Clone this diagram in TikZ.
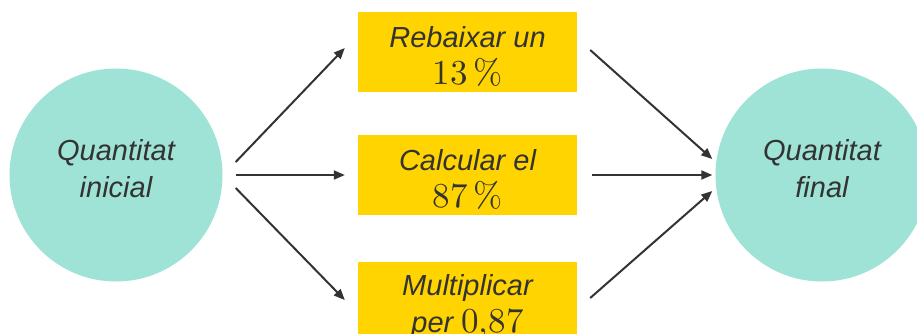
\documentclass[tikz,border=0pt]{standalone}
\usepackage{fontspec}
\newfontfamily\labelfont{Liberation Sans}
\newfontfamily\numfont{lmroman10-regular.otf}
\usepackage{tikz}
\usetikzlibrary{arrows.meta,positioning,calc}

\definecolor{circlefill}{HTML}{9EE3D6}
\definecolor{boxfill}{HTML}{FFD400}
\definecolor{inkgray}{HTML}{333333}
\newcommand\numsz{\fontsize{35}{38}\selectfont\numfont}
\newcommand\topstrut{\rule{0pt}{30pt}}

\begin{document}
\begin{tikzpicture}[
    %–––– GLOBAL STYLE TWEAKS ––––
    x=1pt, y=-1pt,                                   % pixel-like grid
    font=\labelfont\itshape\fontsize{29}{37}\selectfont,
    >={Triangle[length=11pt,width=9pt]},
    quantity/.style = {circle, fill=circlefill, minimum size=213pt,
                       inner sep=0pt, align=center, text=inkgray},
    stepbox/.style  = {rectangle, fill=boxfill, minimum width=219pt,
                       minimum height=80pt, inner sep=0pt,
                       align=center, text=inkgray},
    arrow/.style    = {->, line width=2pt, draw=inkgray},
]
\useasboundingbox (0,0) rectangle (917,334);

%–––– QUANTITIES ––––
\node (q_ini) [quantity] at (116,175) {Quantitat\\inicial\rule[-14pt]{0pt}{0pt}};
\node (q_fin) [quantity] at (822,175) {Quantitat\\final\rule[-14pt]{0pt}{0pt}};

%–––– THREE WAYS ––––
\node (rebaix)  [stepbox] at (467.5,52)  {\topstrut Rebaixar un\\{\numsz 13\,\%}};
\node (calcul)  [stepbox] at (467.5,175) {\topstrut Calcular el\\{\numsz 87\,\%}};
\node (multip)  [stepbox] at (467.5,302) {\topstrut Multiplicar\\per {\numsz 0,87}};

%–––– ARROWS ––––
\foreach \a/\sa/\b/\sb in {
  q_ini.east/{13,-13}/rebaix.west/{-13,-4},
  q_ini.east/{13,0}/calcul.west/{-13,0},
  q_ini.east/{13,13}/multip.west/{-13,-2},
  rebaix.east/{13,-2}/q_fin.west/{-3,-16},
  calcul.east/{15,0}/q_fin.west/{-3,0},
  multip.east/{13,-4}/q_fin.west/{-3,16}}
  \draw[arrow] ([shift={(\sa)}]\a) -- ([shift={(\sb)}]\b);
\end{tikzpicture}
\end{document}
